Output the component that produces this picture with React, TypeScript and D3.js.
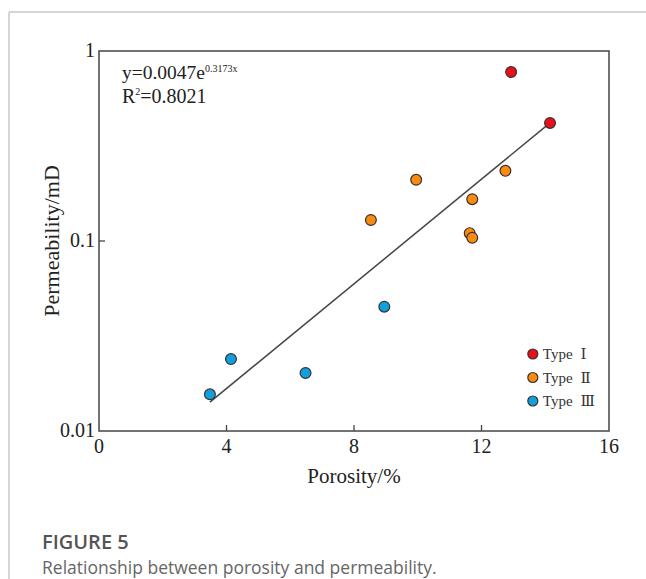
import * as d3 from 'd3';
import React from 'react';

// porosity (%) and permeability (mD)
const typeOnePorosity = [12.93, 14.15];
const typeOnePerm = [0.775, 0.418];
const typeTwoPorosity = [9.95, 8.53, 12.75, 11.71, 11.63, 11.71];
const typeTwoPerm = [0.21, 0.129, 0.234, 0.166, 0.11, 0.104];
const typeThreePorosity = [8.95, 4.14, 6.48, 3.48];
const typeThreePerm = [0.0451, 0.0239, 0.0202, 0.0156];

const seriesNames = ['Ⅰ', 'Ⅱ', 'Ⅲ'];
const seriesColors = ['#e8101c', '#f98c10', '#10a0e0'];

const xTicks = [0, 4, 8, 12, 16];
const yTicks = [0.01, 0.1, 1];
const yTickLabels = ['0.01', '0.1', '1'];

// fitted curve y = 0.0047 e^(0.3173x), drawn over the data range
const fitA = 0.0047;
const fitB = 0.3173;
const fitRange = [3.48, 14.15];

const serif = '"Liberation Serif", "Times New Roman", "DejaVu Serif", serif';
const sans = '"Open Sans", "Noto Sans", sans-serif';

const App = () => {
  const margin = { top: 51, right: 37, bottom: 148, left: 99 };
  const width = 646;
  const height = 579;
  const innerW = width - margin.left - margin.right;
  const innerH = height - margin.top - margin.bottom;

  const x = d3.scaleLinear().domain([0, 16]).range([0, innerW]);
  const y = d3.scaleLog().domain([0.01, 1]).range([innerH, 0]);

  const groups = [
    typeOnePorosity.map((p, i) => ({ p, k: typeOnePerm[i] })),
    typeTwoPorosity.map((p, i) => ({ p, k: typeTwoPerm[i] })),
    typeThreePorosity.map((p, i) => ({ p, k: typeThreePerm[i] })),
  ];

  const fitLine = d3.line<number>()
    .x((d) => x(d))
    .y((d) => y(fitA * Math.exp(fitB * d)));

  return (
    <svg width={width} height={height} style={{ position: 'absolute', left: 0, top: 0 }}>
      <rect width={width} height={height} fill='#fff' />
      {/* card border */}
      <line x1={9} x2={width} y1={12} y2={12} stroke='#c8c8c8' strokeWidth={1.5} />
      <line x1={9} x2={9} y1={12} y2={height} stroke='#c8c8c8' strokeWidth={1.5} />

      <g transform={`translate(${margin.left}, ${margin.top})`}>
        <rect width={innerW} height={innerH} fill='none' stroke='#444' strokeWidth={1.5} />
        {xTicks.slice(1, -1).map((t) => (
          <line key={t} x1={x(t)} x2={x(t)} y1={innerH} y2={innerH - 6} stroke='#444' strokeWidth={1.3} />
        ))}
        {yTicks.slice(1, -1).map((t) => (
          <line key={t} x1={0} x2={6} y1={y(t)} y2={y(t)} stroke='#444' strokeWidth={1.3} />
        ))}
        {xTicks.map((t) => (
          <text key={t} x={x(t)} y={innerH + 22} textAnchor='middle' fontFamily={serif} fontSize={20} fill='#222'>{t}</text>
        ))}
        {yTicks.map((t, i) => (
          <text key={t} x={-4} y={y(t) + 6} textAnchor='end' fontFamily={serif} fontSize={20} fill='#222'>{yTickLabels[i]}</text>
        ))}

        <path d={fitLine(fitRange) ?? ''} fill='none' stroke='#444' strokeWidth={1.5} />

        {groups.map((g, gi) => g.map((d, i) => (
          <circle key={`${gi}-${i}`} cx={x(d.p)} cy={y(d.k)} r={5.4} fill={seriesColors[gi]} stroke='#3a3030' strokeWidth={1.2} />
        )))}

        <text x={23} y={28} fontFamily={serif} fontSize={19.5} fill='#222'>
          y=0.0047e<tspan dy={-7} fontSize={10}>0.3173x</tspan>
        </text>
        <text x={23} y={52} fontFamily={serif} fontSize={20} fill='#222'>
          R<tspan dy={-8} fontSize={10}>2</tspan><tspan dy={8}>=0.8021</tspan>
        </text>

        {seriesNames.map((name, i) => (
          <g key={name} transform={`translate(${x(13.61)}, ${303 + i * 23.5})`}>
            <circle r={5} fill={seriesColors[i]} stroke='#3a3030' strokeWidth={1.2} />
            <text x={10} y={5} fontFamily={serif} fontSize={15} fill='#333'>
              Type<tspan dx={8}>{name}</tspan>
            </text>
          </g>
        ))}
      </g>

      <text x={margin.left + innerW / 2} y={margin.top + innerH + 52} textAnchor='middle' fontFamily={serif} fontSize={21} fill='#222'>Porosity/%</text>
      <text transform={`translate(59, ${margin.top + innerH / 2}) rotate(-90)`} textAnchor='middle' fontFamily={serif} fontSize={22} fill='#222'>Permeability/mD</text>

      <text x={42} y={549} fontFamily={sans} fontSize={20} fontWeight={600} fill='#555'>FIGURE 5</text>
      <text x={42} y={574} fontFamily={sans} fontSize={17.5} fill='#666'>Relationship between porosity and permeability.</text>
    </svg>
  );
};

export default App;
